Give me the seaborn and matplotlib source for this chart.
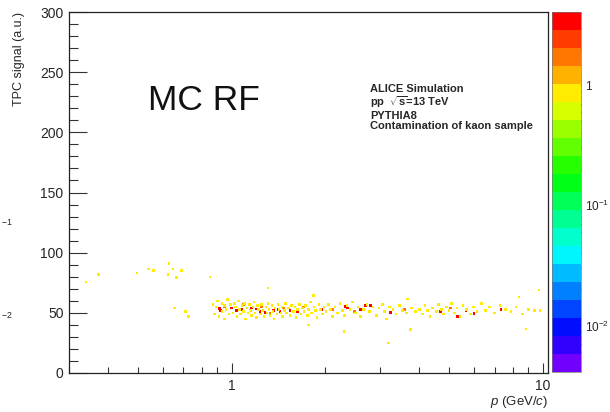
import numpy as np
import pandas as pd
import matplotlib
matplotlib.use("Agg")
import matplotlib.pyplot as plt
import seaborn as sns
from matplotlib.colors import ListedColormap, LogNorm
from matplotlib.cm import ScalarMappable
from matplotlib.ticker import MultipleLocator, LogLocator, FixedLocator, NullFormatter, FixedFormatter

# cells with ~3.5 entries (red)
red_p = [0.912, 0.922, 1.0, 1.038, 1.077, 1.16, 1.204, 1.234, 1.28, 1.362, 1.414, 1.432,
         1.542, 1.62, 1.628, 1.95, 2.32, 2.36, 2.59, 2.69, 2.79, 3.24, 4.70, 5.32, 5.66, 6.02, 7.34]
red_sig = [53.4, 52, 54, 52, 52.6, 54, 53.2, 51.2, 50.4, 52, 52.6, 51.2,
           52, 53.2, 51.2, 52.6, 55.4, 54, 52.6, 55.9, 55.9, 50.4, 51.2, 47, 52, 49.3, 52.6]

# cells with ~2 entries (orange)
orange_p = [0.95, 1.09, 1.25, 1.33, 1.47, 1.70, 2.12, 2.48, 3.60, 5.05]
orange_sig = [55, 57, 55, 50, 54, 55, 53, 51, 53, 54]

# cells with ~1 entry (yellow)
yellow_p = [0.34, 0.374, 0.496, 0.541, 0.56, 0.629, 0.648, 0.69, 0.624, 0.665, 0.851,
            0.656, 0.712, 0.725, 1.31, 1.83, 3.2, 2.3, 1.77, 8.84, 9.74, 8.4, 3.67, 3.76,
            0.87, 0.88, 0.89, 0.90, 0.91, 0.93, 0.93, 0.95, 0.95, 0.96, 0.97, 0.98, 0.99,
            1.01, 1.02, 1.03, 1.04, 1.05, 1.06, 1.07, 1.08, 1.09, 1.10, 1.11, 1.12, 1.13, 1.14,
            1.15, 1.16, 1.17, 1.18, 1.19, 1.20,
            1.21, 1.22, 1.24, 1.25, 1.26, 1.27, 1.29, 1.30, 1.31, 1.32, 1.33, 1.35, 1.36, 1.37,
            1.38, 1.40, 1.41, 1.42, 1.44, 1.45, 1.46, 1.48, 1.49, 1.50,
            1.52, 1.54, 1.56, 1.58, 1.60, 1.61, 1.63, 1.65, 1.67, 1.69, 1.71, 1.73, 1.75, 1.77,
            1.79, 1.81, 1.84, 1.86, 1.88, 1.91, 1.93, 1.96, 1.98,
            2.01, 2.05, 2.08, 2.11, 2.15, 2.19, 2.23, 2.27, 2.31, 2.35, 2.40, 2.45, 2.50, 2.55,
            2.60, 2.65, 2.72, 2.78, 2.85, 2.92, 2.98,
            3.05, 3.10, 3.15, 3.22, 3.30, 3.38, 3.46, 3.55, 3.65, 3.78, 3.90, 4.02, 4.10, 4.18,
            4.26, 4.34, 4.42,
            4.55, 4.63, 4.72, 4.80, 4.90, 5.00, 5.10, 5.20, 5.30, 5.42, 5.55, 5.70, 5.85, 6.00,
            6.15, 6.35, 6.55, 6.75,
            7.0, 7.3, 7.6, 7.9, 8.2, 8.6, 9.0, 9.4, 9.8]
yellow_sig = [75.6, 81.7, 83, 86.4, 85, 90.8, 86.4, 85, 81.7, 79.5, 79.8,
              54, 51.2, 47, 70.6, 64.5, 25, 34.6, 40, 36.6, 69, 63, 61.5, 36,
              57, 49, 55, 60, 47, 58, 51, 56, 45, 53, 61, 49, 57,
              50, 58, 55, 47, 60, 53, 49, 56, 51, 58, 45, 54, 50, 57,
              52, 48, 55, 59, 50, 46,
              56, 53, 49, 57, 52, 47, 55, 50, 58, 53, 48, 56, 51, 45,
              54, 49, 57, 53, 50, 55, 47, 52, 58, 50,
              54, 48, 56, 51, 55, 46, 53, 57, 49, 54, 51, 56, 48, 53,
              59, 50, 55, 52, 46, 57, 53, 49, 55,
              51, 57, 53, 47, 55, 50, 58, 52, 48, 56, 53, 59, 50, 55,
              47, 53, 57, 51, 55, 48, 54,
              57, 51, 45, 55, 53, 49, 56, 52, 50, 54, 51, 53, 49, 56,
              52, 47, 54,
              51, 57, 53, 49, 55, 52, 58, 50, 54, 47, 56, 53, 49, 55,
              51, 58, 52, 55,
              50, 56, 53, 51, 55, 49, 53, 52, 52]

df = pd.DataFrame({
    "p": red_p + orange_p + yellow_p,
    "signal": red_sig + orange_sig + yellow_sig,
    "counts": [3.5] * len(red_p) + [2.0] * len(orange_p) + [1.0] * len(yellow_p),
})

sns.set_style("ticks")
plt.rcParams["font.family"] = ["Liberation Sans", "DejaVu Sans"]
plt.rcParams["mathtext.fontset"] = "custom"
plt.rcParams["mathtext.rm"] = "Liberation Sans"
plt.rcParams["mathtext.it"] = "Liberation Sans:italic"
plt.rcParams["mathtext.bf"] = "Liberation Sans:bold"

# ROOT-like rainbow palette, 20 contours
cmap = ListedColormap(plt.get_cmap("hsv")(np.linspace(0.75, 0.0, 20)))
norm = LogNorm(vmin=0.0041, vmax=4.07)

fig = plt.figure(figsize=(6.10, 4.12), dpi=100)
ax = fig.add_axes([69 / 610, 39 / 412, 479 / 610, 361 / 412])
cax = fig.add_axes([552 / 610, 40 / 412, 29 / 610, 360 / 412])

sns.scatterplot(data=df, x="p", y="signal", hue="counts", hue_norm=norm, palette=cmap,
                marker="s", s=3.5, linewidth=0, legend=False, ax=ax)

ax.set_xscale("log")
ax.set_xlim(0.3, 10.4)
ax.set_ylim(0, 300)
for s in ax.spines.values():
    s.set_color("#222222")
    s.set_linewidth(0.9)

ax.yaxis.set_major_locator(MultipleLocator(50))
ax.yaxis.set_minor_locator(MultipleLocator(10))
ax.xaxis.set_major_locator(FixedLocator([1, 10]))
ax.xaxis.set_major_formatter(FixedFormatter(["1", "10"]))
ax.xaxis.set_minor_locator(LogLocator(base=10, subs=np.arange(2, 10)))
ax.xaxis.set_minor_formatter(NullFormatter())
ax.tick_params(axis="y", which="major", direction="in", length=13, width=0.8, color="#333333",
               labelsize=10, pad=4)
ax.tick_params(axis="y", which="minor", direction="in", length=6.5, width=0.8, color="#333333")
ax.tick_params(axis="x", which="major", direction="in", length=7, width=0.8, color="#333333",
               labelsize=10, pad=4)
ax.tick_params(axis="x", which="minor", direction="in", length=4, width=0.8, color="#333333")

ax.set_xlabel("$p$ (GeV/$c$)", fontsize=9.5, loc="right")
ax.xaxis.set_label_coords(1.0, -0.057)
ax.set_ylabel("TPC signal (a.u.)", fontsize=9, loc="top", labelpad=11)

ax.text(0.165, 0.755, "MC RF", transform=ax.transAxes, fontsize=25.5, va="center", ha="left",
        color="#111111")
alice = ["ALICE Simulation", r"pp  $\sqrt{\mathbf{s}}$=13 TeV", "PYTHIA8",
         "Contamination of kaon sample"]
ax.text(0.628, 0.80, "\n".join(alice), transform=ax.transAxes, fontsize=8,
        fontweight="bold", va="top", ha="left", linespacing=1.05)

cb = fig.colorbar(ScalarMappable(norm=norm, cmap=cmap), cax=cax)
cb.outline.set_linewidth(0.5)
cb.outline.set_edgecolor("#777777")
cax.yaxis.set_major_locator(FixedLocator([0.01, 0.1, 1]))
cax.yaxis.set_major_formatter(FixedFormatter(["10$^{-2}$", "10$^{-1}$", "1"]))
cax.yaxis.set_minor_locator(LogLocator(base=10, subs=np.arange(2, 10)))
cax.yaxis.set_minor_formatter(NullFormatter())
cax.tick_params(which="major", direction="in", length=12, width=0.8, color="#333333",
                labelsize=8.5, pad=3)
cax.tick_params(which="minor", direction="in", length=6, width=0.8, color="#333333")

# cut-off colour scale labels of the neighbouring panel
fig.text(0.001, 1 - 226 / 412, "$^{-1}$", fontsize=9, ha="left", va="center")
fig.text(0.001, 1 - 319 / 412, "$^{-2}$", fontsize=9, ha="left", va="center")

fig.savefig("out.png", dpi=100)
